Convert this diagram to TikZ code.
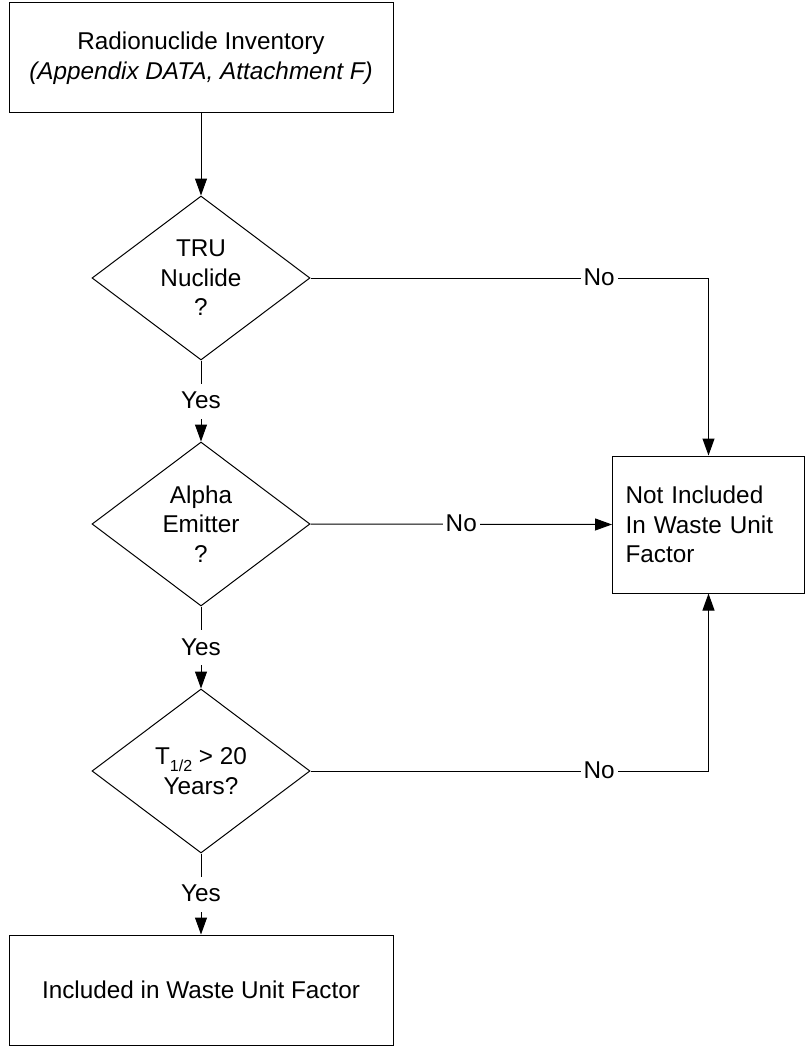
\documentclass[tikz,border=0pt]{standalone}
\usepackage{fontspec}
\setmainfont{Liberation Sans}
\usetikzlibrary{shapes.geometric,arrows.meta}
\begin{document}
\begin{tikzpicture}[x=1pt,y=-1pt,
  every node/.style={font=\fontsize{24.3}{29.5}\selectfont},
  box/.style={draw, line width=1pt, rectangle, inner sep=0pt, align=center},
  dia/.style={draw, line width=1pt, diamond, minimum width=218pt, minimum height=164pt, inner sep=0pt},
  txt/.style={align=center, inner sep=0pt},
  lbl/.style={fill=white, inner xsep=3pt, inner ysep=6pt, text height=19pt, text depth=4pt},
  conn/.style={line width=1pt},
  arr/.style={conn, -{Triangle[length=17pt,width=12pt]}}
]
\useasboundingbox (0,0) rectangle (806,1046);

\node[box, minimum width=384pt, minimum height=110pt] (inv) at (201,58) {Radionuclide Inventory\\\textit{(Appendix DATA, Attachment F)}};
\node[dia] (d1) at (201,278) {};
\node[txt] (t1) at (d1.center) {TRU\\Nuclide\\?};
\node[dia] (d2) at (201,524) {};
\node[txt] (t2) at (d2.center) {Alpha\\Emitter\\?};
\node[dia] (d3) at (201,771) {};
\node[txt] (t3) at (d3.center) {T\raisebox{-7pt}{\fontsize{16}{16}\selectfont 1/2} > 20\\Years?};
\node[box, minimum width=384pt, minimum height=110pt] (inc) at (201,990) {Included in Waste Unit Factor};
\node[box, minimum width=192pt, minimum height=137pt, text width=166pt, align=left, inner xsep=13pt] (nin) at (708.5,524.5) {Not Included\\In Waste Unit\\Factor};

\draw[arr] (inv.south) -- (d1.north);
\draw[arr] (d1.south) -- node[lbl]{Yes} (d2.north);
\draw[arr] (d2.south) -- node[lbl]{Yes} (d3.north);
\draw[arr] (d3.south) -- node[lbl]{Yes} (inc.north);
\draw[arr] (d1.east) -- node[lbl,pos=0.725]{No} (d1.east -| nin.north) -- (nin.north);
\draw[arr] (d2.east) -- node[lbl]{No} (nin.west);
\draw[arr] (d3.east) -- node[lbl,pos=0.725]{No} (d3.east -| nin.south) -- (nin.south);
\end{tikzpicture}
\end{document}
